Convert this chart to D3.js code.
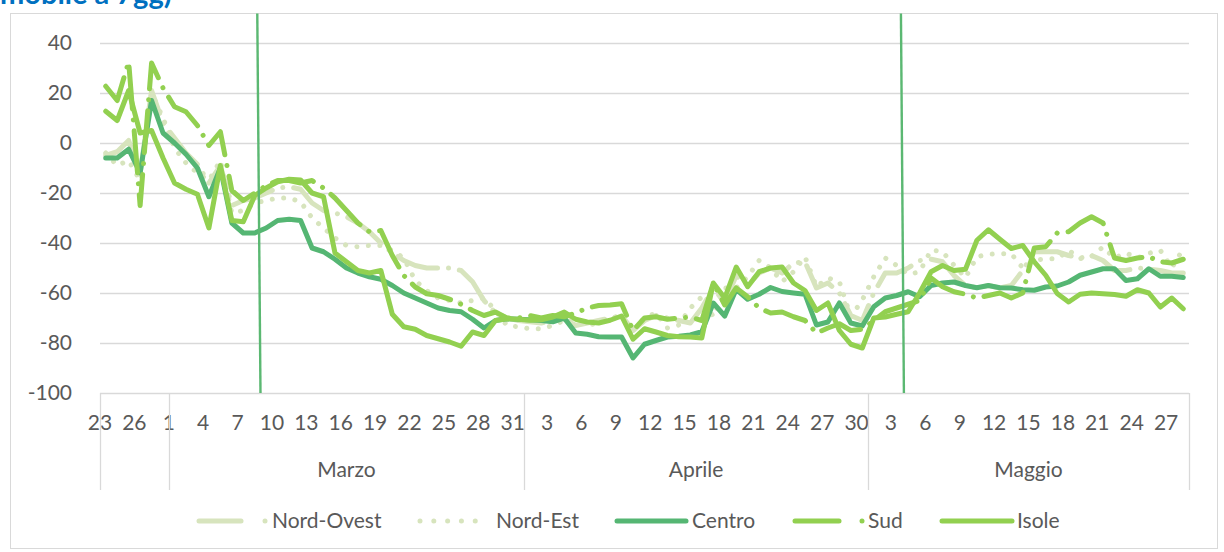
<!DOCTYPE html>
<html><head><meta charset="utf-8">
<script src="https://cdn.jsdelivr.net/npm/d3@7"></script>
<style>
html,body{margin:0;padding:0;background:#fff;}
svg text{font-family:"Lato","Open Sans",sans-serif;}
</style></head>
<body>
<svg id="chart" width="1224" height="552"></svg>
<script>
// ---- data (day index 0 = 23 Feb ... 94 = 28 May) ----
const dayTicks = ["23","26","1","4","7","10","13","16","19","22","25","28","31",
  "3","6","9","12","15","18","21","24","27","30",
  "3","6","9","12","15","18","21","24","27"];
const months = ["Marzo","Aprile","Maggio"];
const monthStart = [6, 37, 67];
const yTicks = [40,20,0,-20,-40,-60,-80,-100];
const seriesNames = ["Nord-Ovest","Nord-Est","Centro","Sud","Isole"];
const markerDays = [[13.72,14.0],[69.87,70.13]]; // annotation lines (top, bottom) as day positions

const nordOvest = [-5,-3.5,1,-12,21,8,2,-4,-8.5,-16,-9,-25,-23,-22,-20,-18,-17.5,-18.5,-24,-27,
 -28,-29.5,-32,-35.5,-40,-44,-47,-49,-50,-50,-50,-51,-55.5,-63,-68,-70,-71,-71.5,-72,-71,
 -70.5,-73,-72,-71,-70,-69,-75,-71,-69,-70,-71,-72,-66,-58,-64,-53,-57,-52,-50,-52,
 -48,-47.5,-58,-56,-60,-69,-71,-60,-52,-52,-50,-47,-46.5,-47.5,-53,-57,-58,-57,-58,-57,
 -51,-43.5,-43.5,-43.5,-45,-46,-45,-47,-51,-51,-50,-50.5,-51,-52,-52];
const nordEst = [-4,-9,-7,-15,20,10,-2,-8,-12,-15,-7,-28,-27,-24,-23,-22,-22,-23.5,-30,-34,
 -38,-41,-41.5,-41,-41,-43,-46,-55,-59,-62,-63,-64,-63,-62,-67,-73,-73.5,-74.3,-74.3,-73,
 -71,-70.5,-73,-72,-70,-70,-74,-70,-68,-74,-72.8,-66,-61.5,-69.5,-58,-58,-53.5,-47,-50,-55.5,
 -51.5,-45.5,-57.5,-54,-55.5,-69.5,-62.8,-53.5,-46,-49,-52.5,-51.6,-42.8,-43.5,-48.9,-53.9,-45.5,-44.5,-44.3,-44.3,
 -50,-46.9,-46.3,-46.3,-42.9,-46.3,-45.3,-41.6,-46,-44,-46,-44.1,-42.9,-49.9,-42.3];
const centro = [-6,-6,-2.5,-12,17,4,0,-4.5,-10,-21.5,-10,-32,-36,-36,-34,-31,-30.5,-31,-42,-43.5,
 -46.5,-50,-52,-53.5,-54.5,-57,-60,-62,-64,-66,-67,-67.5,-70.5,-74,-71,-70.3,-70.5,-70.7,-71,-71.5,
 -70,-76,-76.5,-77.5,-77.6,-77.6,-86,-80.5,-79,-77.6,-77.3,-76.8,-75.5,-64,-69.2,-58.5,-62.5,-60.5,-57.8,-59.4,
 -60,-60.5,-72.8,-71.6,-64,-72,-73.2,-65.5,-62,-61,-59.5,-61.5,-57,-56,-55.6,-57,-57.9,-57,-57.9,-58,
 -58.7,-58.9,-57.6,-57.2,-55.6,-52.9,-51.6,-50.3,-50.3,-55,-54.3,-50.3,-53.3,-53.3,-53.8];
const sud = [22.7,17,32.5,-25,32,22,14.5,12.5,7,-1,4.5,-19,-23,-20,-17,-15,-15,-16,-15,-18,
 -22,-27,-32,-35.5,-35,-45,-53,-57.6,-60.3,-61,-62.5,-64.5,-67,-69,-67.6,-70,-70,-69,-70,-69,
 -69.5,-68,-66,-65,-64.8,-64.3,-75,-70,-69.5,-70.5,-70,-69.6,-71,-56,-64.8,-58,-61.5,-66,-68,-67.6,
 -69.5,-71,-76,-74,-72.3,-75,-74.5,-71,-67.5,-66,-64.5,-63,-54,-57.5,-59.5,-60.5,-62,-61,-60,-62,
 -60,-42,-41.5,-36,-35.5,-32,-29.5,-32,-46,-47,-46,-45.5,-47.5,-48,-46.5];
const isole = [12.7,9,21,4,5,-6,-16,-18.5,-20.5,-34,-9,-31,-31.5,-21,-18,-15.5,-14.5,-14.8,-20,-21.5,
 -44,-47.5,-51,-52,-51,-68.5,-73.5,-74.5,-77,-78.3,-79.6,-81.3,-75.6,-77,-71,-70.3,-70.5,-70.9,-70.7,-69.6,
 -67.6,-70.5,-71.6,-72,-70.9,-69.2,-78.5,-74.3,-75.6,-77,-77.5,-77.6,-78,-56,-62,-49.6,-57.5,-51.5,-50,-49.6,
 -56,-59,-67,-64,-75,-80.5,-82,-70,-69.6,-68.5,-67.5,-60,-51.5,-49,-51,-50.5,-38.9,-34.7,-38.5,-42.2,
 -41,-47.5,-52.9,-60.2,-63.6,-60.5,-60,-60.3,-60.6,-61.3,-58.7,-60,-65.6,-62,-66.3];

// ---- styles ----
const pale = "#d7e4bd", mid = "#55b673", bright = "#92d050";
const styles = [
  {name:"Nord-Ovest", data:nordOvest, color:pale, dash:"42,11,0.01,11"},
  {name:"Nord-Est",   data:nordEst,   color:pale, dash:"0.01,11.5"},
  {name:"Centro",     data:centro,    color:mid,  dash:null},
  {name:"Sud",        data:sud,       color:bright, dash:"42,11,0.01,11"},
  {name:"Isole",      data:isole,     color:bright, dash:null}
];

const svg = d3.select("#chart");
const L = 100, R = 1189, T = 43, B = 393;
const n = centro.length;
const x = d3.scaleBand().domain(d3.range(n)).range([L, R]).paddingInner(0).paddingOuter(0);
const bw = x.bandwidth();
const xc = i => x(i) + bw/2;
const xEdge = d3.scaleLinear().domain([0, n]).range([L, R]);
const y = d3.scaleLinear().domain([-100, 40]).range([B, T]);

// chart area border
svg.append("rect").attr("x",10.5).attr("y",13.5).attr("width",1207).attr("height",535)
  .attr("fill","#fff").attr("stroke","#d9d9d9").attr("stroke-width",1);

// title (clipped at top, as in the source)
svg.append("text").attr("x",0).attr("y",3.5).attr("fill","#0070c0")
  .attr("font-weight","bold").attr("font-size",29).text("mobile a 7gg)");

// gridlines
svg.append("g").selectAll("line").data(yTicks).join("line")
  .attr("x1",L).attr("x2",R).attr("y1",d=>Math.round(y(d))+0.5).attr("y2",d=>Math.round(y(d))+0.5)
  .attr("stroke","#d9d9d9").attr("stroke-width",1.3);

// y labels
svg.append("g").selectAll("text").data(yTicks).join("text")
  .attr("x",72).attr("y",d=>y(d)+7).attr("text-anchor","end")
  .attr("font-size",21).attr("fill","#595959").text(d=>d);

// x tick labels
svg.append("g").selectAll("text").data(dayTicks).join("text")
  .attr("x",(d,k)=>xEdge(k*3)).attr("y",430).attr("text-anchor","middle")
  .attr("font-size",21).attr("fill","#595959").text(d=>d);

// category separators
const seps = [0, ...monthStart, n];
svg.append("g").selectAll("line").data(seps).join("line")
  .attr("x1",d=>Math.round(xEdge(d))+0.5).attr("x2",d=>Math.round(xEdge(d))+0.5)
  .attr("y1",B).attr("y2",490).attr("stroke","#d9d9d9").attr("stroke-width",1.3);

// month labels
svg.append("g").selectAll("text").data(months).join("text")
  .attr("x",(d,k)=>(xEdge(seps[k+1])+xEdge(seps[k+2]))/2).attr("y",477)
  .attr("text-anchor","middle").attr("font-size",21).attr("fill","#595959").text(d=>d);

// series
const line = d3.line().x((d,i)=>xc(i)).y(d=>y(d)).curve(d3.curveLinear);
svg.append("g").selectAll("path").data(styles).join("path")
  .attr("d",s=>line(s.data)).attr("fill","none").attr("stroke",s=>s.color)
  .attr("stroke-width",5).attr("stroke-linecap","round").attr("stroke-linejoin","round")
  .attr("stroke-dasharray",s=>s.dash);

// annotation lines
svg.append("g").selectAll("line").data(markerDays).join("line")
  .attr("x1",d=>xEdge(d[0])).attr("x2",d=>xEdge(d[1]))
  .attr("y1",13.5).attr("y2",B).attr("stroke","#5bb872").attr("stroke-width",2.4);

// legend
const ly = 521;
const lg = svg.append("g");
const legendItems = [
  {s:styles[0], x1:199, x2:241, dot:265, tx:272},
  {s:styles[1], x1:420, x2:476, dot:null, tx:496},
  {s:styles[2], x1:617, x2:686, dot:null, tx:692},
  {s:styles[3], x1:795, x2:839, dot:862, tx:868},
  {s:styles[4], x1:942, x2:1012, dot:null, tx:1017}
];
legendItems.forEach(it=>{
  lg.append("line").attr("x1",it.x1).attr("x2",it.x2).attr("y1",ly).attr("y2",ly)
    .attr("stroke",it.s.color).attr("stroke-width",5).attr("stroke-linecap","round")
    .attr("stroke-dasharray", it.s.name==="Nord-Est" ? "0.01,13.8" : null);
  if(it.dot!==null) lg.append("circle").attr("cx",it.dot).attr("cy",ly).attr("r",2.5).attr("fill",it.s.color);
  lg.append("text").attr("x",it.tx).attr("y",ly+7).attr("font-size",21).attr("fill","#595959").text(it.s.name);
});
</script>
</body></html>
